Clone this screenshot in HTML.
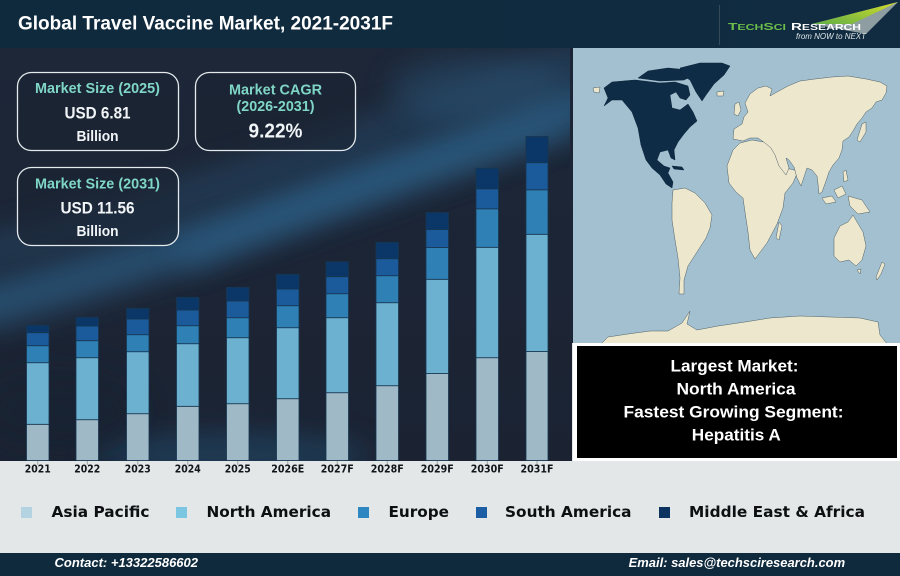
<!DOCTYPE html>
<html><head><meta charset="utf-8"><style>
html,body{margin:0;padding:0;background:#e3e7e8;}
svg{display:block;}
</style></head><body>
<svg width="900" height="576" viewBox="0 0 900 576" xmlns="http://www.w3.org/2000/svg">
<defs>
<filter id="b14" x="-50%" y="-50%" width="200%" height="200%"><feGaussianBlur stdDeviation="14"/></filter>
<filter id="b8" x="-50%" y="-50%" width="200%" height="200%"><feGaussianBlur stdDeviation="8"/></filter>
<linearGradient id="bg" x1="0" y1="0" x2="0" y2="1"><stop offset="0" stop-color="#1d2738"/><stop offset="1" stop-color="#1b2333"/></linearGradient>
<linearGradient id="hdr" x1="0" y1="0" x2="1" y2="0"><stop offset="0" stop-color="#0f293d"/><stop offset="1" stop-color="#112c40"/></linearGradient>
<linearGradient id="grn" x1="0" y1="1" x2="1" y2="0"><stop offset="0" stop-color="#5fae46"/><stop offset="1" stop-color="#d6dc2a"/></linearGradient>
<clipPath id="cc"><rect x="0" y="48" width="572" height="413"/></clipPath>
<clipPath id="mc"><rect x="573" y="48" width="327" height="295"/></clipPath>
</defs>

<rect x="0" y="0" width="900" height="576" fill="#e3e7e8"/>
<rect x="0" y="0" width="900" height="48" fill="url(#hdr)"/>
<rect x="0" y="553" width="900" height="23" fill="#0f2a3c"/>

<g clip-path="url(#cc)">
<rect x="0" y="48" width="572" height="413" fill="url(#bg)"/>
<path d="M-30,310 Q200,250 620,90" stroke="#2f638c" stroke-width="45" fill="none" opacity="0.65" filter="url(#b14)"/>
<path d="M-30,255 Q250,185 620,40" stroke="#2a5277" stroke-width="28" fill="none" opacity="0.5" filter="url(#b14)"/>
<path d="M180,260 Q330,190 570,120" stroke="#2f6690" stroke-width="30" fill="none" opacity="0.4" filter="url(#b14)"/>
<ellipse cx="230" cy="455" rx="140" ry="22" fill="#24506f" opacity="0.55" filter="url(#b14)"/>
<ellipse cx="60" cy="410" rx="80" ry="40" fill="#182030" opacity="0.6" filter="url(#b14)"/>
<ellipse cx="480" cy="90" rx="90" ry="35" fill="#2a5477" opacity="0.45" filter="url(#b14)"/>
</g>

<text x="18" y="29.5" font-family="Liberation Sans, Arial, sans-serif" font-weight="bold" font-size="19" fill="#ffffff" textLength="375" lengthAdjust="spacingAndGlyphs">Global Travel Vaccine Market, 2021-2031F</text>

<line x1="719.5" y1="5" x2="719.5" y2="45" stroke="#34495a" stroke-width="1"/>
<polygon points="812,24 898,2 866,34" fill="#8e9da2"/>
<polygon points="812,24 898,2 852,24" fill="url(#grn)"/>
<text x="728" y="30" font-family="Liberation Sans, Arial, sans-serif" font-weight="bold" font-size="8" fill="#6cbf4a" textLength="58" lengthAdjust="spacingAndGlyphs"><tspan font-size="10">T</tspan>ECH<tspan font-size="10">S</tspan>CI</text>
<text x="791" y="30" font-family="Liberation Sans, Arial, sans-serif" font-weight="bold" font-size="8" fill="#ffffff" textLength="70" lengthAdjust="spacingAndGlyphs"><tspan font-size="10">R</tspan>ESEARCH</text>
<text x="796" y="39" font-family="Liberation Sans, Arial, sans-serif" font-style="italic" font-size="8" fill="#dfe6ea" textLength="70" lengthAdjust="spacingAndGlyphs">from NOW to NEXT</text>

<g font-family="Liberation Sans, Arial, sans-serif" font-weight="bold" text-anchor="middle">
<rect x="17.5" y="72.5" width="161" height="78" rx="14" fill="#1a2232" fill-opacity="0.55" stroke="#e3e9ec" stroke-width="1.3"/>
<rect x="195.5" y="72.5" width="160" height="78" rx="14" fill="#1a2232" fill-opacity="0.55" stroke="#e3e9ec" stroke-width="1.3"/>
<rect x="17.5" y="167.5" width="161" height="78" rx="14" fill="#1a2232" fill-opacity="0.55" stroke="#e3e9ec" stroke-width="1.3"/>
<text x="97.5" y="93" font-size="15" fill="#7fd6c6" textLength="125" lengthAdjust="spacingAndGlyphs">Market Size (2025)</text>
<text x="97.5" y="118.3" font-size="17" fill="#f2f5f7" textLength="66" lengthAdjust="spacingAndGlyphs">USD 6.81</text>
<text x="97.5" y="141" font-size="15" fill="#f2f5f7" textLength="42" lengthAdjust="spacingAndGlyphs">Billion</text>
<text x="275.5" y="94.3" font-size="15" fill="#7fd6c6" textLength="93" lengthAdjust="spacingAndGlyphs">Market CAGR</text>
<text x="275.5" y="111" font-size="15" fill="#7fd6c6" textLength="78" lengthAdjust="spacingAndGlyphs">(2026-2031)</text>
<text x="275.5" y="137.7" font-size="20" fill="#f2f5f7" textLength="54" lengthAdjust="spacingAndGlyphs">9.22%</text>
<text x="97.5" y="188.3" font-size="15" fill="#7fd6c6" textLength="125" lengthAdjust="spacingAndGlyphs">Market Size (2031)</text>
<text x="97.5" y="213.3" font-size="17" fill="#f2f5f7" textLength="74" lengthAdjust="spacingAndGlyphs">USD 11.56</text>
<text x="97.5" y="236" font-size="15" fill="#f2f5f7" textLength="42" lengthAdjust="spacingAndGlyphs">Billion</text>
</g>

<g stroke="#173650" stroke-width="0.8">
<rect x="26.5" y="424.3" width="22.5" height="36.2" fill="#9fb9c6"/>
<rect x="26.5" y="362.7" width="22.5" height="61.6" fill="#6db1d0"/>
<rect x="26.5" y="345.7" width="22.5" height="17" fill="#2f80b5"/>
<rect x="26.5" y="332.7" width="22.5" height="13" fill="#1b5b9b"/>
<rect x="26.5" y="325.3" width="22.5" height="7.4" fill="#0a3668"/>
<rect x="76" y="419.7" width="22.5" height="40.8" fill="#9fb9c6"/>
<rect x="76" y="357.7" width="22.5" height="62" fill="#6db1d0"/>
<rect x="76" y="340.7" width="22.5" height="17" fill="#2f80b5"/>
<rect x="76" y="326" width="22.5" height="14.7" fill="#1b5b9b"/>
<rect x="76" y="317.3" width="22.5" height="8.7" fill="#0a3668"/>
<rect x="126.5" y="413.7" width="22.5" height="46.8" fill="#9fb9c6"/>
<rect x="126.5" y="351.7" width="22.5" height="62" fill="#6db1d0"/>
<rect x="126.5" y="334.7" width="22.5" height="17" fill="#2f80b5"/>
<rect x="126.5" y="319" width="22.5" height="15.7" fill="#1b5b9b"/>
<rect x="126.5" y="308.3" width="22.5" height="10.7" fill="#0a3668"/>
<rect x="176.5" y="406.3" width="22.5" height="54.2" fill="#9fb9c6"/>
<rect x="176.5" y="343.7" width="22.5" height="62.6" fill="#6db1d0"/>
<rect x="176.5" y="325.7" width="22.5" height="18" fill="#2f80b5"/>
<rect x="176.5" y="310" width="22.5" height="15.7" fill="#1b5b9b"/>
<rect x="176.5" y="297.3" width="22.5" height="12.7" fill="#0a3668"/>
<rect x="226.5" y="403.7" width="22.5" height="56.8" fill="#9fb9c6"/>
<rect x="226.5" y="337.7" width="22.5" height="66" fill="#6db1d0"/>
<rect x="226.5" y="317.7" width="22.5" height="20" fill="#2f80b5"/>
<rect x="226.5" y="301" width="22.5" height="16.7" fill="#1b5b9b"/>
<rect x="226.5" y="287.3" width="22.5" height="13.7" fill="#0a3668"/>
<rect x="276.5" y="398.7" width="22.5" height="61.8" fill="#9fb9c6"/>
<rect x="276.5" y="327.7" width="22.5" height="71" fill="#6db1d0"/>
<rect x="276.5" y="305.7" width="22.5" height="22" fill="#2f80b5"/>
<rect x="276.5" y="289" width="22.5" height="16.7" fill="#1b5b9b"/>
<rect x="276.5" y="274.3" width="22.5" height="14.7" fill="#0a3668"/>
<rect x="326" y="392.7" width="22.5" height="67.8" fill="#9fb9c6"/>
<rect x="326" y="317.7" width="22.5" height="75" fill="#6db1d0"/>
<rect x="326" y="293.7" width="22.5" height="24" fill="#2f80b5"/>
<rect x="326" y="276.7" width="22.5" height="17" fill="#1b5b9b"/>
<rect x="326" y="261.7" width="22.5" height="15" fill="#0a3668"/>
<rect x="376" y="385.7" width="22.5" height="74.8" fill="#9fb9c6"/>
<rect x="376" y="302.7" width="22.5" height="83" fill="#6db1d0"/>
<rect x="376" y="275.7" width="22.5" height="27" fill="#2f80b5"/>
<rect x="376" y="258.7" width="22.5" height="17" fill="#1b5b9b"/>
<rect x="376" y="242.3" width="22.5" height="16.4" fill="#0a3668"/>
<rect x="426" y="373.5" width="22.5" height="87" fill="#9fb9c6"/>
<rect x="426" y="279.3" width="22.5" height="94.2" fill="#6db1d0"/>
<rect x="426" y="247.5" width="22.5" height="31.8" fill="#2f80b5"/>
<rect x="426" y="229.5" width="22.5" height="18" fill="#1b5b9b"/>
<rect x="426" y="212.5" width="22.5" height="17" fill="#0a3668"/>
<rect x="476" y="357.7" width="22.5" height="102.8" fill="#9fb9c6"/>
<rect x="476" y="247.3" width="22.5" height="110.4" fill="#6db1d0"/>
<rect x="476" y="208.8" width="22.5" height="38.5" fill="#2f80b5"/>
<rect x="476" y="188.8" width="22.5" height="20" fill="#1b5b9b"/>
<rect x="476" y="168.3" width="22.5" height="20.5" fill="#0a3668"/>
<rect x="526" y="351.5" width="22" height="109" fill="#9fb9c6"/>
<rect x="526" y="234.3" width="22" height="117.2" fill="#6db1d0"/>
<rect x="526" y="189.8" width="22" height="44.5" fill="#2f80b5"/>
<rect x="526" y="162.7" width="22" height="27.1" fill="#1b5b9b"/>
<rect x="526" y="136.5" width="22" height="26.2" fill="#0a3668"/>
</g>

<g stroke="#9aa4aa" stroke-width="1">
<line x1="37.8" y1="461" x2="37.8" y2="465"/><line x1="87.3" y1="461" x2="87.3" y2="465"/><line x1="137.8" y1="461" x2="137.8" y2="465"/><line x1="187.8" y1="461" x2="187.8" y2="465"/><line x1="237.8" y1="461" x2="237.8" y2="465"/><line x1="287.8" y1="461" x2="287.8" y2="465"/><line x1="337.3" y1="461" x2="337.3" y2="465"/><line x1="387.3" y1="461" x2="387.3" y2="465"/><line x1="437.3" y1="461" x2="437.3" y2="465"/><line x1="487.3" y1="461" x2="487.3" y2="465"/><line x1="537" y1="461" x2="537" y2="465"/>
</g>
<g font-family="DejaVu Sans, Liberation Sans, sans-serif" font-weight="bold" font-size="11" fill="#111418" text-anchor="middle">
<text x="37.8" y="472.5" textLength="26" lengthAdjust="spacingAndGlyphs">2021</text>
<text x="87.3" y="472.5" textLength="26" lengthAdjust="spacingAndGlyphs">2022</text>
<text x="137.8" y="472.5" textLength="26" lengthAdjust="spacingAndGlyphs">2023</text>
<text x="187.8" y="472.5" textLength="26" lengthAdjust="spacingAndGlyphs">2024</text>
<text x="237.8" y="472.5" textLength="26" lengthAdjust="spacingAndGlyphs">2025</text>
<text x="287.8" y="472.5" textLength="33" lengthAdjust="spacingAndGlyphs">2026E</text>
<text x="337.3" y="472.5" textLength="33" lengthAdjust="spacingAndGlyphs">2027F</text>
<text x="387.3" y="472.5" textLength="33" lengthAdjust="spacingAndGlyphs">2028F</text>
<text x="437.3" y="472.5" textLength="33" lengthAdjust="spacingAndGlyphs">2029F</text>
<text x="487.3" y="472.5" textLength="33" lengthAdjust="spacingAndGlyphs">2030F</text>
<text x="537" y="472.5" textLength="33" lengthAdjust="spacingAndGlyphs">2031F</text>
</g>

<rect x="570" y="48" width="3" height="295" fill="#1c2535"/>
<g clip-path="url(#mc)">
<rect x="573" y="48" width="327" height="295" fill="#a2c0cf"/>
<g fill="#ece7cd" stroke="#4f5f66" stroke-width="0.5" stroke-linejoin="round">
<path d="M733,150 L740,143 L752,140 L764,142 L775,145 L780,156 L786,168 L798,171 L793,183 L785,193 L783,208 L777,224 L767,243 L755,259 L750,250 L748,232 L745,212 L743,198 L736,192 L729,183 L727,166 Z"/>
<path d="M733,139 L734,129 L742,124 L744,117 L748,112 L745,103 L750,94 L758,88 L766,86 L772,89 L770,96 L777,92 L788,86 L800,81 L815,79 L832,77 L848,76 L866,79 L880,82 L887,86 L886,93 L882,100 L876,102 L872,108 L866,112 L862,118 L857,124 L853,131 L849,137 L843,141 L842,150 L839,158 L833,165 L829,172 L826,181 L822,192 L819,194 L818,184 L817,176 L812,170 L807,168 L804,177 L801,186 L797,178 L794,167 L789,160 L786,158 L789,168 L786,175 L779,166 L775,155 L771,148 L765,143 L758,138 L750,138 L743,141 Z"/>
<path d="M735,104 L739,102 L741,110 L738,116 L734,114 Z"/>
<path d="M862,124 L866,122 L866,132 L860,142 L857,140 Z"/>
<path d="M822,198 L832,196 L836,202 L826,204 Z"/>
<path d="M834,190 L842,186 L846,194 L838,198 Z"/>
<path d="M848,196 L862,200 L870,212 L858,214 L850,206 Z"/>
<path d="M843,172 L846,170 L848,180 L844,182 Z"/>
<path d="M779,222 L782,226 L779,240 L776,238 Z"/>
<path d="M834,238 L840,226 L848,222 L853,215 L857,222 L863,232 L866,246 L862,260 L856,266 L849,260 L840,262 L834,256 Z"/>
<path d="M857,270 L861,269 L860,274 Z"/>
<path d="M882,262 L885,264 L881,274 L877,280 L876,277 Z"/>
<path d="M673,190 L685,188 L695,193 L705,203 L712,215 L710,228 L706,238 L697,252 L688,266 L684,280 L684,294 L679,294 L680,278 L678,258 L675,240 L672,220 L672,203 Z"/>
<path d="M600,345 L608,337 L628,334 L650,331 L668,331 L682,323 L690,311 L687,324 L697,330 L718,326 L745,322 L770,318 L800,316 L830,317 L860,318 L878,322 L880,335 L888,345 Z"/>
<path d="M717,92 L724,91 L723,96 L717,96 Z"/>
<path d="M593,88 L600,87 L599,93 L594,92 Z"/>
</g>
<g fill="#0f2c47" stroke="#0b2238" stroke-width="0.5">
<path d="M604,88 L612,82 L635,80 L660,83 L675,82 L688,86 L690,95 L686,100 L680,98 L676,92 L670,95 L672,108 L680,110 L688,104 L693,112 L697,121 L690,127 L684,134 L678,142 L674,150 L675,160 L671,158 L668,150 L660,152 L657,160 L664,166 L670,168 L668,173 L673,182 L672,188 L666,184 L660,175 L652,168 L646,160 L641,145 L638,128 L632,112 L622,100 L612,100 L604,106 L608,98 Z"/>
<path d="M638,78 L648,71 L668,68 L688,70 L692,76 L684,80 L660,81 Z"/>
<path d="M680,68 L700,63 L722,63 L730,66 L724,75 L714,84 L706,95 L702,101 L696,92 L690,80 L682,75 Z"/>
<path d="M672,166 L682,167 L684,170 L674,169 Z"/>
</g>
</g>

<rect x="573" y="343" width="327" height="118" fill="#ffffff"/>
<rect x="577" y="346" width="320" height="112" fill="#000000"/>
<g font-family="Liberation Sans, Arial, sans-serif" font-weight="bold" font-size="17" fill="#ffffff" text-anchor="middle">
<text x="734.5" y="371.7" textLength="128" lengthAdjust="spacingAndGlyphs">Largest Market:</text>
<text x="736" y="394.3" textLength="119" lengthAdjust="spacingAndGlyphs">North America</text>
<text x="733.5" y="417.7" textLength="220" lengthAdjust="spacingAndGlyphs">Fastest Growing Segment:</text>
<text x="736.3" y="440.7" textLength="89" lengthAdjust="spacingAndGlyphs">Hepatitis A</text>
</g>

<rect x="21" y="507" width="11" height="11" fill="#b4d3e1"/>
<rect x="176" y="507" width="11" height="11" fill="#7dc6e2"/>
<rect x="358" y="507" width="11" height="11" fill="#2f87c2"/>
<rect x="476" y="507" width="11" height="11" fill="#1b5ea4"/>
<rect x="659" y="507" width="11" height="11" fill="#0c3260"/>
<g font-family="DejaVu Sans, Liberation Sans, sans-serif" font-weight="bold" font-size="15" fill="#0d0f12">
<text x="51.5" y="517" textLength="98" lengthAdjust="spacingAndGlyphs">Asia Pacific</text>
<text x="206.5" y="517" textLength="124.5" lengthAdjust="spacingAndGlyphs">North America</text>
<text x="388.5" y="517" textLength="60.5" lengthAdjust="spacingAndGlyphs">Europe</text>
<text x="505" y="517" textLength="126.5" lengthAdjust="spacingAndGlyphs">South America</text>
<text x="689" y="517" textLength="176" lengthAdjust="spacingAndGlyphs">Middle East &amp; Africa</text>
</g>

<g font-family="Liberation Sans, Arial, sans-serif" font-weight="bold" font-style="italic" font-size="13" fill="#ffffff">
<text x="54.5" y="567" textLength="143.5" lengthAdjust="spacingAndGlyphs">Contact: +13322586602</text>
<text x="628.6" y="567" textLength="216.5" lengthAdjust="spacingAndGlyphs">Email: sales@techsciresearch.com</text>
</g>
</svg>
</body></html>
